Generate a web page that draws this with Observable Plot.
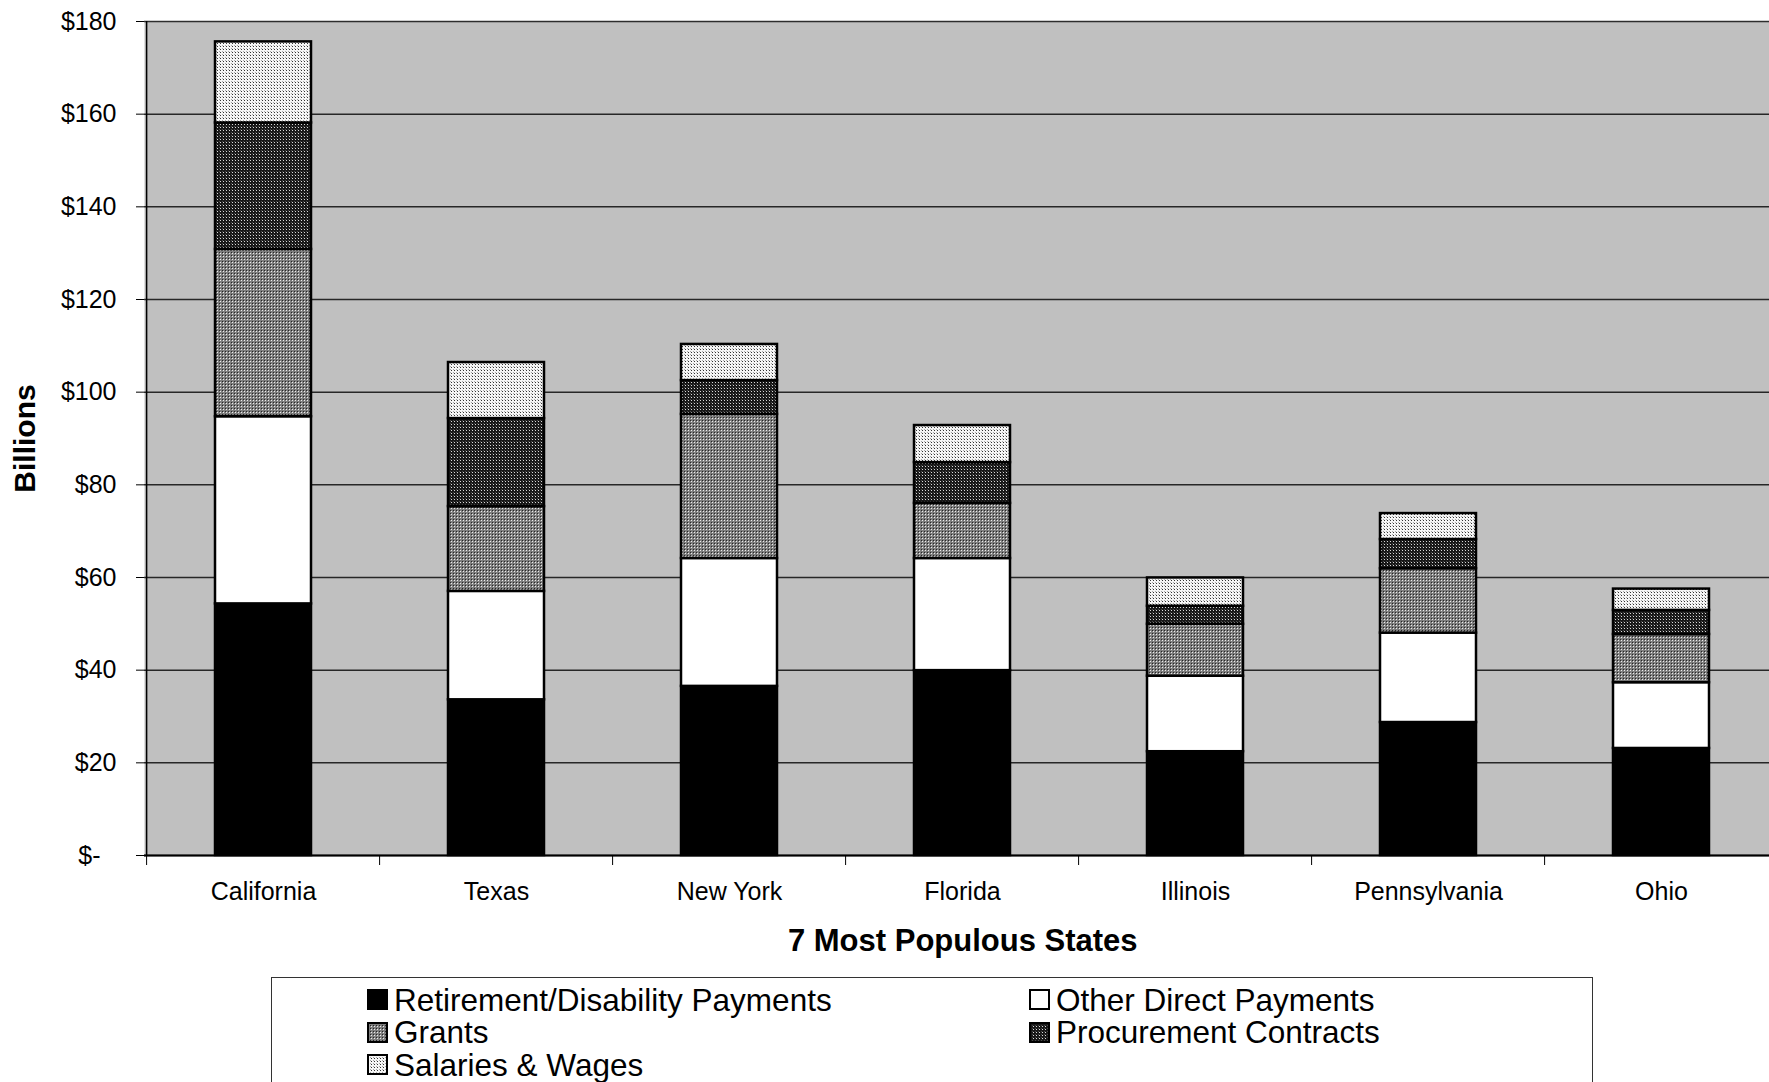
<!DOCTYPE html>
<html><head><meta charset="utf-8">
<script src="https://cdn.jsdelivr.net/npm/d3@7"></script>
<script src="https://cdn.jsdelivr.net/npm/@observablehq/plot@0.6"></script>
<style>
html,body{margin:0;padding:0;background:#fff;overflow:hidden;width:1769px;height:1082px;position:relative;}
#chart svg{display:block;max-width:none !important;}
#legend{position:absolute;left:271px;top:977px;width:1322px;height:115px;border:1.5px solid #333;box-sizing:border-box;font-family:"Liberation Sans",Arial,sans-serif;font-size:31.5px;color:#000;background:#fff;}
.item{position:absolute;display:flex;align-items:center;white-space:nowrap;height:30px;}
.item svg{width:21px;height:21px;margin-right:6px;flex:none;}
.item span{display:inline-block;height:30px;line-height:30px;overflow:visible;}
</style></head><body>
<div id="chart"></div>
<div id="legend"></div>
<script>
const states = ["California", "Texas", "New York", "Florida", "Illinois", "Pennsylvania", "Ohio"];
const seriesNames = ["Retirement/Disability Payments", "Other Direct Payments", "Grants", "Procurement Contracts", "Salaries & Wages"];
const retirement  = [54.3, 33.6, 36.5, 39.9, 22.4, 28.7, 23.1];
const otherDirect = [40.4, 23.4, 27.6, 24.2, 16.3, 19.3, 14.2];
const grants      = [36.1, 18.3, 31.1, 11.9, 11.2, 13.9, 10.4];
const procurement = [27.3, 19.0, 7.3, 8.8, 3.9, 6.3, 5.2];
const salaries    = [17.5, 12.1, 7.8, 8.0, 6.1, 5.6, 4.6];
const yTicks = [0, 20, 40, 60, 80, 100, 120, 140, 160, 180];

const seriesValues = [retirement, otherDirect, grants, procurement, salaries];
const fills = ["#000000", "#ffffff", "url(#pat-grants)", "url(#pat-proc)", "url(#pat-sal)"];
const fillOf = Object.fromEntries(seriesNames.map((s, i) => [s, fills[i]]));

const data = [];
states.forEach((st, j) => seriesNames.forEach((s, i) => data.push({state: st, series: s, value: seriesValues[i][j]})));

const W = 1782, H = 970, ML = 144, MR = 1.5, MT = 21, MB = 115;
const step = (W - ML - MR) / states.length;

const font = "'Liberation Sans', Arial, sans-serif";

const chart = Plot.plot({
  width: W, height: H,
  marginLeft: ML, marginRight: MR, marginTop: MT, marginBottom: MB,
  style: {fontFamily: font, fontSize: "25px", background: "#fff", overflow: "visible", maxWidth: "none"},
  x: {domain: states, paddingInner: 0.59, paddingOuter: 0.295, label: null},
  y: {domain: [0, 180], label: null},
  color: {type: "identity"},
  marks: [
    Plot.frame({fill: "#c0c0c0", stroke: null}),
    Plot.gridY(yTicks, {stroke: "#000", strokeOpacity: 0.8, strokeWidth: 1.5}),
    Plot.barY(data, {x: "state", y: "value", fill: d => fillOf[d.series], stroke: "#000", strokeWidth: 2.5}),
    Plot.ruleX([states[0]], {dx: -step / 2, stroke: "#000", strokeWidth: 1.5}),
    Plot.ruleY([0], {stroke: "#000", strokeWidth: 2}),
    Plot.axisY({ticks: yTicks, tickSize: 8, tickPadding: 20, fontSize: 25, label: null,
      tickFormat: d => d === 0 ? "$-\u2007\u200A" : "$" + d}),
    Plot.axisX({ticks: states, tickSize: 10, tickFormat: () => "", dx: -step / 2, label: null}),
    Plot.axisX({tickSize: 0, tickPadding: 27, fontSize: 25, label: null}),
    Plot.text({length: 1}, {frameAnchor: "bottom", text: ["7 Most Populous States"], dy: 86, lineAnchor: "middle", textAnchor: "middle", fontWeight: "bold", fontSize: 31}),
    Plot.text({length: 1}, {frameAnchor: "left", text: ["Billions"], rotate: -90, dx: -119, lineAnchor: "middle", textAnchor: "middle", fontWeight: "bold", fontSize: 30})
  ]
});

// pattern definitions
const ns = "http://www.w3.org/2000/svg";
const defs = document.createElementNS(ns, "defs");
defs.innerHTML = `
<pattern id="pat-grants" width="3" height="3" patternUnits="userSpaceOnUse">
  <rect width="3" height="3" fill="#7e7e7e"/>
  <rect x="0" y="0" width="1" height="1" fill="#262626"/>
  <rect x="1" y="1" width="1" height="1" fill="#ececec"/>
</pattern>
<pattern id="pat-proc" width="3" height="3" patternUnits="userSpaceOnUse">
  <rect width="3" height="3" fill="#181818"/>
  <rect x="1" y="1" width="1" height="1" fill="#d8d8d8"/>
  <rect x="0" y="0" width="1" height="1" fill="#4a4a4a"/>
</pattern>
<pattern id="pat-sal" width="3" height="3" patternUnits="userSpaceOnUse">
  <rect width="3" height="3" fill="#f6f6f6"/>
  <rect x="1" y="1" width="1" height="1" fill="#333333"/>
  <rect x="0" y="0" width="1" height="1" fill="#a8a8a8"/>
</pattern>`;
chart.insertBefore(defs, chart.firstChild);
document.getElementById("chart").appendChild(chart);

// legend
const legend = document.getElementById("legend");
const colLeft = [95, 757], rowTop = [6.5, 39, 71.5];
const order = [[0, 0], [1, 0], [0, 1], [1, 1], [0, 2]];
seriesNames.forEach((s, i) => {
  const [c, r] = order[i];
  const it = document.createElement("div");
  it.className = "item";
  it.style.left = colLeft[c] + "px";
  it.style.top = rowTop[r] + "px";
  it.innerHTML = `<svg viewBox="0 0 21 21"><rect x="1" y="1" width="19" height="19" fill="${fills[i]}" stroke="#000" stroke-width="2"/></svg><span></span>`;
  it.querySelector("span").textContent = s;
  legend.appendChild(it);
});
</script>
</body></html>
